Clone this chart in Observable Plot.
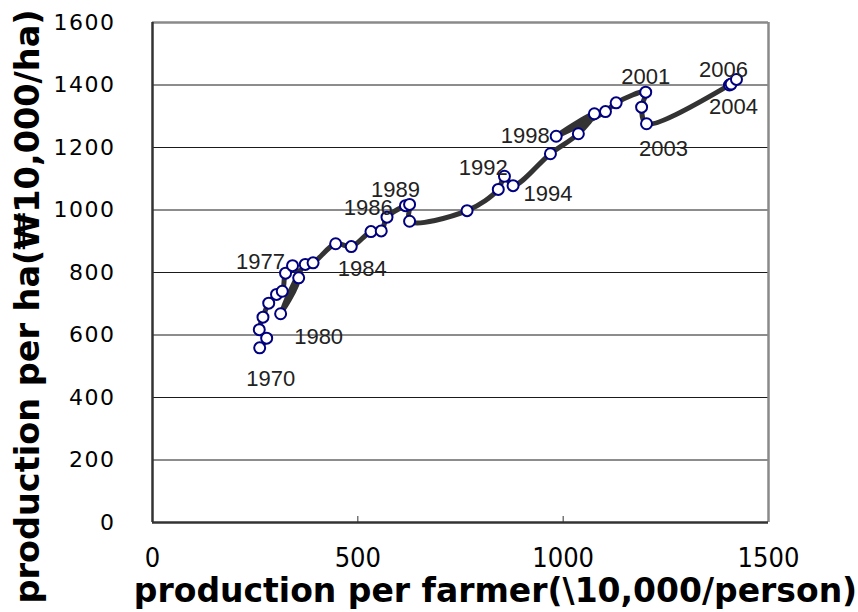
<!DOCTYPE html>
<html>
<head>
<meta charset="utf-8">
<script src="https://cdn.jsdelivr.net/npm/d3@7"></script>
<script src="https://cdn.jsdelivr.net/npm/@observablehq/plot@0.6"></script>
<style>
  html, body { margin: 0; padding: 0; background: #fff; }
  #chart { width: 858px; height: 612px; }
</style>
</head>
<body>
<div id="chart"></div>
<script>
// Years (series order along the path)
const years = [1970,1971,1972,1973,1974,1975,1976,1977,1978,1979,
               1980,1981,1982,1983,1984,1985,1986,1987,1988,1989,
               1990,1991,1992,1993,1994,1995,1996,1997,1998,1999,
               2000,2001,2002,2003,2004,2005,2006];
// production per farmer (10,000 won / person)
const perFarmer = [261,278,260,269,283,302,316,324,341,356,
                   312,372,391,446,484,532,557,571,616,626,
                   626,766,842,857,878,969,1037,1076,983,1103,
                   1129,1201,1191,1203,1405,1409,1422];
// production per ha (10,000 won / ha)
const perHa = [559,590,617,657,702,730,740,798,822,783,
               668,826,831,892,883,931,933,977,1014,1018,
               964,998,1066,1108,1078,1180,1244,1308,1236,1315,
               1343,1377,1329,1276,1400,1403,1418];
// Labelled years
const labelYears = [1970,1977,1980,1984,1986,1989,1992,1994,1998,2001,2003,2004,2006];
// Tick values
const xTicks = [0, 500, 1000, 1500];
const yTicks = [0, 200, 400, 600, 800, 1000, 1200, 1400, 1600];
const xTitle = "production per farmer(\\10,000/person)";
const yTitle = "production per ha(\u20A910,000/ha)";

// label offsets in pixels (style only)
const labelOffset = {
  1970: [11, 31], 1977: [-25, -11], 1980: [38, 23], 1984: [11, 22],
  1986: [-13, -23], 1989: [-14, -14], 1992: [-15, -21], 1994: [35, 8],
  1998: [-31, 0], 2001: [0, -15], 2003: [17, 25], 2004: [4, 22], 2006: [-13, -9]
};

const data = years.map((yr, i) => ({year: yr, x: perFarmer[i], y: perHa[i]}));
const labels = data.filter(d => labelYears.includes(d.year));

const chart = Plot.plot({
  width: 858,
  height: 612,
  marginLeft: 152,
  marginRight: 90,
  marginTop: 22,
  marginBottom: 90,
  style: {background: "#fff", fontFamily: "DejaVu Sans, Verdana, sans-serif", color: "#000"},
  x: {domain: [0, 1500]},
  y: {domain: [0, 1600]},
  marks: [
    Plot.gridY(yTicks.filter(v => v > 0 && v < 1600), {stroke: "#1a1a1a", strokeOpacity: 1, strokeWidth: 1}),
    Plot.ruleY([1600], {stroke: "#8a8a8a", strokeWidth: 2.5}),
    Plot.ruleX([1500], {stroke: "#8a8a8a", strokeWidth: 2.5}),
    Plot.ruleX([0], {stroke: "#333", strokeWidth: 2.5}),
    Plot.ruleY([0], {stroke: "#333", strokeWidth: 2.5}),
    Plot.tickX(xTicks.filter(v => v > 0 && v < 1500), {stroke: "#333", strokeWidth: 1, insetTop: 494}),
    Plot.axisY({ticks: yTicks, tickSize: 0, tickPadding: 37, fontSize: 22, label: null, fill: "#000",
                tickFormat: d => String(d)}),
    Plot.axisX({ticks: xTicks, tickSize: 0, tickPadding: 25, fontSize: 27, label: null, fill: "#000",
                fontFamily: "DejaVu Sans Condensed, DejaVu Sans, sans-serif", tickFormat: d => String(d)}),
    Plot.line(data, {x: "x", y: "y", stroke: "#333", strokeWidth: 5, curve: "catmull-rom"}),
    Plot.dot(data, {x: "x", y: "y", r: 5.5, fill: "#fff", stroke: "#000080", strokeWidth: 2}),
    Plot.text(labels, {x: "x", y: "y", text: d => String(d.year),
      fontSize: 22, fontFamily: "Liberation Sans, Arial, sans-serif", fill: "#222",
      render: (index, scales, values, dims, ctx, next) => {
        const g = next(index, scales, values, dims, ctx);
        d3.select(g).selectAll("text").each(function(i) {
          const yr = labels[i].year;
          const [ox, oy] = labelOffset[yr];
          const t = d3.select(this).attr("transform") || "";
          d3.select(this).attr("transform", `translate(${ox},${oy}) ` + t);
        });
        return g;
      }}),
    Plot.text([xTitle], {frameAnchor: "bottom", textAnchor: "middle", lineAnchor: "middle",
      dx: 35, dy: 69, fontSize: 33, fontWeight: "bold",
      fontFamily: "DejaVu Sans, Verdana, sans-serif", fill: "#000"}),
    Plot.text([yTitle], {frameAnchor: "left", textAnchor: "middle", lineAnchor: "middle",
      dx: -124, dy: 34, rotate: -90, fontSize: 33.5, fontWeight: "bold",
      fontFamily: "DejaVu Sans, Verdana, sans-serif", fill: "#000"})
  ]
});

document.getElementById("chart").appendChild(chart);
d3.select(chart).selectAll('g[aria-label="y-axis tick label"] text').style("letter-spacing", "1.5px");
</script>
</body>
</html>
